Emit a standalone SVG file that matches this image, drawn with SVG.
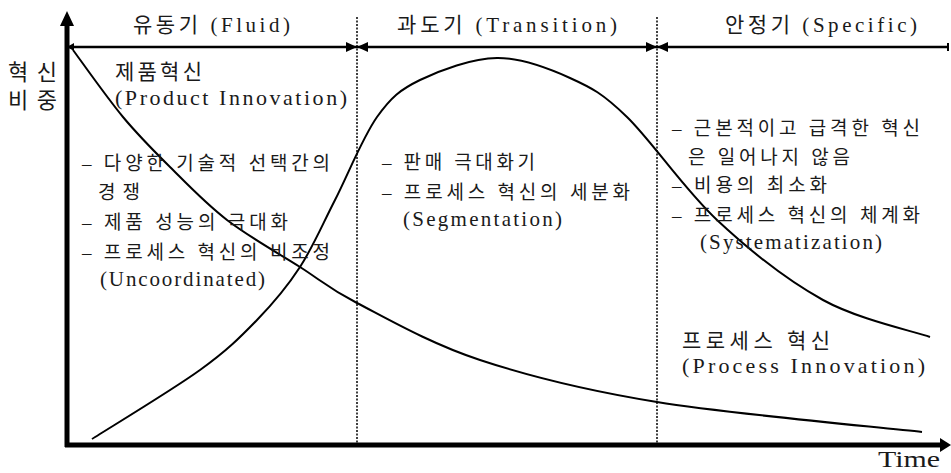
<svg xmlns="http://www.w3.org/2000/svg" width="951" height="473" viewBox="0 0 951 473">
<style>
text{font-family:"Liberation Serif","Noto Sans CJK KR",serif;fill:#1a1a1a}
.t{font-size:21px}
.e{font-size:22px}
.l{font-size:19px}
.le{font-size:21px}
.ax{stroke:#000;stroke-width:5;fill:none}
.div{stroke:#000;stroke-width:1.5;stroke-dasharray:2 1.5;fill:none}
.cur{stroke:#000;stroke-width:2;fill:none}
</style>
<rect width="951" height="473" fill="#fff"/>
<g id="connectors">
<line class="div" x1="357" y1="17" x2="357" y2="443"/>
<line class="div" x1="657" y1="17" x2="657" y2="443"/>
<line x1="67" y1="47" x2="948" y2="47" stroke="#000" stroke-width="2.5"/>
<line x1="948" y1="43" x2="948" y2="51" stroke="#000" stroke-width="2"/>
<polygon points="67,47 74,43 74,51" fill="#000"/>
<polygon points="357,47 346,42 346,52" fill="#000"/>
<polygon points="357,47 368,42 368,52" fill="#000"/>
<polygon points="657,47 646,42 646,52" fill="#000"/>
<polygon points="657,47 668,42 668,52" fill="#000"/>
<line class="ax" x1="67" y1="447" x2="67" y2="24"/>
<polygon points="60,26 74,26 67,11" fill="#000"/>
<line class="ax" x1="65" y1="445" x2="941" y2="445"/>
<polygon points="940,438 940,452 951,445" fill="#000"/>
</g>
<g id="product-curve">
<path class="cur" d="M73,50 C81.3,61.2 106.8,97.5 123,117 C139.2,136.5 152.7,149.8 170,167 C187.3,184.2 205.3,203.3 227,220 C248.7,236.7 278.3,253.2 300,267 C321.7,280.8 327,287.5 357,303 C387,318.5 430,343.5 480,360 C530,376.5 583.3,390 657,402 C730.7,414 877.8,427 922,432"/>
</g>
<g id="process-curve">
<path class="cur" d="M92,439 C110,427.5 172.5,389.8 200,370 C227.5,350.2 240.3,337.2 257,320 C273.7,302.8 287,287 300,267 C313,247 322.2,225 335,200 C347.8,175 362.8,137 377,117 C391.2,97 400,89.8 420,80 C440,70.2 472,58.3 497,58 C522,57.7 548.3,68.2 570,78 C591.7,87.8 602.5,93.3 627,117 C651.5,140.7 684.3,189.5 717,220 C749.7,250.5 787.5,280.5 823,300 C858.5,319.5 912.2,330.8 930,337"/>
</g>
<g id="phase-fluid">
<text class="t" x="133" y="32" textLength="157" lengthAdjust="spacing">유동기 (Fluid)</text>
</g>
<g id="phase-transition">
<text class="t" x="397" y="32" textLength="220" lengthAdjust="spacing">과도기 (Transition)</text>
</g>
<g id="phase-specific">
<text class="t" x="725" y="32" textLength="192" lengthAdjust="spacing">안정기 (Specific)</text>
</g>
<g id="y-label">
<text x="8" y="80" font-size="22" textLength="49" lengthAdjust="spacing">혁신</text>
<text x="8" y="108" font-size="22" textLength="49" lengthAdjust="spacing">비중</text>
</g>
<g id="x-label">
<text x="878" y="467" font-size="24" textLength="62" lengthAdjust="spacingAndGlyphs">Time</text>
</g>
<g id="product-label">
<text class="t" x="115" y="79" textLength="87" lengthAdjust="spacing">제품혁신</text>
<text class="e" x="115" y="105" textLength="232" lengthAdjust="spacing">(Product Innovation)</text>
</g>
<g id="process-label">
<text class="t" x="682" y="348" textLength="148" lengthAdjust="spacing">프로세스 혁신</text>
<text class="e" x="682" y="373" textLength="243" lengthAdjust="spacing">(Process Innovation)</text>
</g>
<g id="fluid-notes">
<text class="l" x="82" y="170" textLength="248" lengthAdjust="spacing">– 다양한 기술적 선택간의</text>
<text class="l" x="98" y="199" textLength="42" lengthAdjust="spacing">경쟁</text>
<text class="l" x="82" y="229" textLength="206" lengthAdjust="spacing">– 제품 성능의 극대화</text>
<text class="l" x="82" y="259" textLength="248" lengthAdjust="spacing">– 프로세스 혁신의 비조정</text>
<text class="le" x="100" y="286" textLength="165" lengthAdjust="spacing">(Uncoordinated)</text>
</g>
<g id="transition-notes">
<text class="l" x="382" y="169" textLength="153" lengthAdjust="spacing">– 판매 극대화기</text>
<text class="l" x="382" y="199" textLength="248" lengthAdjust="spacing">– 프로세스 혁신의 세분화</text>
<text class="le" x="403" y="226" textLength="159" lengthAdjust="spacing">(Segmentation)</text>
</g>
<g id="specific-notes">
<text class="l" x="672" y="135" textLength="248" lengthAdjust="spacing">– 근본적이고 급격한 혁신</text>
<text class="l" x="688" y="164" textLength="162" lengthAdjust="spacing">은 일어나지 않음</text>
<text class="l" x="672" y="192" textLength="155" lengthAdjust="spacing">– 비용의 최소화</text>
<text class="l" x="672" y="222" textLength="248" lengthAdjust="spacing">– 프로세스 혁신의 체계화</text>
<text class="le" x="700" y="249" textLength="182" lengthAdjust="spacing">(Systematization)</text>
</g>
</svg>
